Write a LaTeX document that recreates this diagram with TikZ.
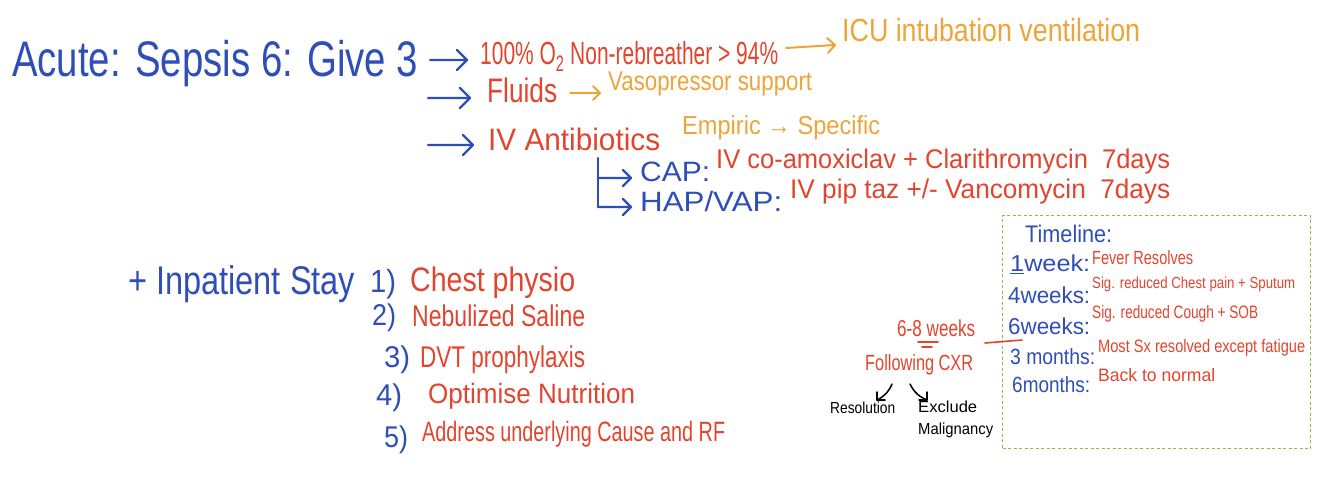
\documentclass[tikz,border=0pt]{standalone}
\usepackage{fontspec}
\usepackage{graphicx}
\setmainfont{Liberation Sans}
\usetikzlibrary{calc}
\definecolor{pblue}{HTML}{2E4FB8}
\definecolor{pred}{HTML}{E2452E}
\definecolor{porange}{HTML}{EFA43A}
\definecolor{pgreen}{HTML}{7DC451}
\newcommand{\fw}[2]{\resizebox{#1pt}{\height}{#2}}
\tikzset{
  txt/.style={inner sep=0pt, anchor=west},
  tb/.style={txt, text=pblue},
  tr/.style={txt, text=pred},
  tor/.style={txt, text=porange},
  tk/.style={txt, text=black},
  fs/.style={font=\fontsize{#1}{#1}\selectfont},
  bline/.style={draw=pblue, line width=2.2pt, line cap=round, line join=round},
  oline/.style={draw=porange, line width=2pt, line cap=round, line join=round},
  kline/.style={draw=black, line width=1.5pt, line cap=round, line join=round},
  rline/.style={draw=pred, line width=1.6pt, line cap=round},
}
\begin{document}
\begin{tikzpicture}[x=1pt,y=-1pt]
\useasboundingbox[fill=white] (0,0) rectangle (1334,484);
% Acute line
\node[tb, fs=50] (acute) at (12,64) {\fw{406}{Acute: Sepsis 6: Give 3}};
\node[tr, fs=32] (o2) at (480,56) {\fw{298}{100\% O\textsubscript{2} Non-rebreather > 94\%}};
\node[tor, fs=32] (icu) at (842,30) {\fw{298}{ICU intubation ventilation}};
\node[tr, fs=34] (fluids) at (487,90) {\fw{70}{Fluids}};
\node[tor, fs=27] (vaso) at (608,84) {\fw{204}{Vasopressor support}};
\node[tr, fs=31] (abx) at (488,139) {\fw{172}{IV Antibiotics}};
\node[tor, fs=26] (emp) at (682,128) {\fw{198}{Empiric → Specific}};
\node[tb, fs=28] (cap) at (640,172) {\fw{70}{CAP:}};
\node[tr, fs=27] (capt) at (716,162) {\fw{454}{IV co-amoxiclav + Clarithromycin \ 7days}};
\node[tb, fs=28] (hap) at (640,201) {\fw{142}{HAP/VAP:}};
\node[tr, fs=27] (hapt) at (790,192) {\fw{380}{IV pip taz +/- Vancomycin \ 7days}};
% arrow end points
\coordinate (s1) at (430,60);  \coordinate (e1) at (467,60);
\coordinate (s2) at (428,98);  \coordinate (e2) at (470,98);
\coordinate (s3) at (428,145); \coordinate (e3) at (473,145);
\coordinate (br) at (598,158);
\coordinate (b1) at (598,178); \coordinate (e4) at (631,178);
\coordinate (b2) at (598,207); \coordinate (e5) at (631,207);
\coordinate (s6) at (786,48);  \coordinate (e6) at (835,45);
\coordinate (s7) at (570,93);  \coordinate (e7) at (600,93);
% blue arrows
\draw[bline] (s1) -- (e1) ++(-10,-10) -- (e1) -- ++(-10,10);
\draw[bline] (s2) -- (e2) ++(-10,-10) -- (e2) -- ++(-10,10);
\draw[bline] (s3) -- (e3) ++(-10,-10) -- (e3) -- ++(-10,10);
\draw[bline] (br) -- (b2);
\draw[bline] (b1) -- (e4) ++(-8,-8) -- (e4) -- ++(-8,8);
\draw[bline] (b2) -- (e5) ++(-8,-8) -- (e5) -- ++(-8,8);
% orange arrows
\draw[oline] (s6) -- (e6) ++(-8,-7) -- (e6) -- ++(-7,8);
\draw[oline] (s7) -- (e7) ++(-7,-7) -- (e7) -- ++(-7,7);
% Inpatient
\node[tb, fs=40] (inp) at (128,284) {\fw{227}{+ Inpatient Stay}};
\node[tb, fs=32] (n1) at (370,284) {\fw{26}{1)}};
\node[tr, fs=34] (i1) at (410,283) {\fw{165}{Chest physio}};
\node[tb, fs=30] (n2) at (372,318) {\fw{24}{2)}};
\node[tr, fs=30] (i2) at (412,316) {\fw{173}{Nebulized Saline}};
\node[tb, fs=30] (n3) at (384,360) {\fw{26}{3)}};
\node[tr, fs=30] (i3) at (420,360) {\fw{165}{DVT prophylaxis}};
\node[tb, fs=30] (n4) at (376,398) {\fw{26}{4)}};
\node[tr, fs=28] (i4) at (428,396) {\fw{207}{Optimise Nutrition}};
\node[tb, fs=30] (n5) at (384,440) {\fw{24}{5)}};
\node[tr, fs=28] (i5) at (422,434) {\fw{303}{Address underlying Cause and RF}};
% follow-up
\node[tr, fs=23] (wk) at (897,328) {\fw{78}{6-8 weeks}};
\draw[rline] (918,342) -- (938,342);
\draw[rline] (922,347) -- (932,347);
\node[tr, fs=22] (cxr) at (865,365) {\fw{108}{Following CXR}};
\node[tk, fs=16] (res) at (830,408) {\fw{65}{Resolution}};
\node[tk, fs=16] (exc) at (918,407) {\fw{59}{Exclude}};
\node[tk, fs=16] (mal) at (918,430) {\fw{75}{Malignancy}};
\coordinate (k1) at (892,384);
\coordinate (k2) at (877,400);
\coordinate (k3) at (910,384);
\coordinate (k4) at (927,400);
\draw[kline] (k1) to[bend left=20] (k2);
\draw[kline] (k2) ++(8,0) -- (k2) -- ++(0,-8);
\draw[kline] (k3) to[bend right=20] (k4);
\draw[kline] (k4) ++(-8,0) -- (k4) -- ++(0,-8);
% Timeline box
\node[draw=pgreen, line width=1.3pt, inner sep=0pt, minimum width=308pt, minimum height=233pt, anchor=north west, dash pattern=on 3pt off 2.5pt] (box) at (1002,215) {};
\node[tb, fs=24] (tl) at (1025,234) {\fw{87}{Timeline:}};
\node[tb, fs=23] (t1) at (1010,264) {\fw{80}{\underline{1}week:}};
\node[tr, fs=19] (t1r) at (1092,258) {\fw{101}{Fever Resolves}};
\node[tb, fs=23] (t2) at (1008,295) {\fw{82}{4weeks:}};
\node[tr, fs=16] (t2r) at (1092,284) {\fw{203}{Sig. reduced Chest pain + Sputum}};
\node[tb, fs=23] (t3) at (1008,326) {\fw{82}{6weeks:}};
\node[tr, fs=18] (t3r) at (1092,314) {\fw{166}{Sig. reduced Cough + SOB}};
\node[tb, fs=22] (t4) at (1010,357) {\fw{85}{3 months:}};
\node[tr, fs=18] (t4r) at (1098,348) {\fw{207}{Most Sx resolved except fatigue}};
\node[tb, fs=22] (t5) at (1012,385) {\fw{78}{6months:}};
\node[tr, fs=18] (t5r) at (1098,375) {\fw{117}{Back to normal}};
\coordinate (L1) at (985,343);
\coordinate (L2) at (1022,340);
\draw[rline] (L1) -- (L2);
\end{tikzpicture}
\end{document}
